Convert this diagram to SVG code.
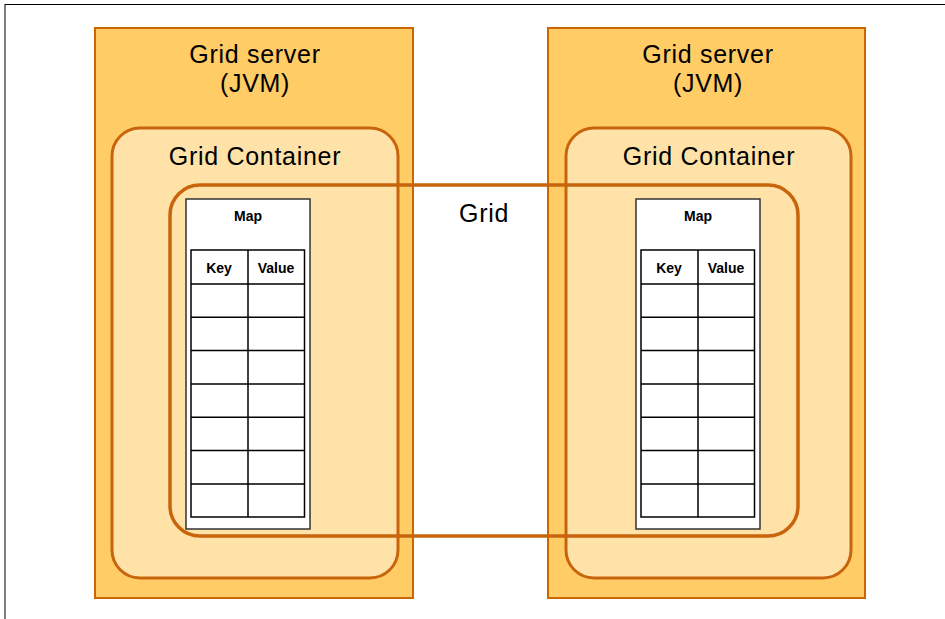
<svg xmlns="http://www.w3.org/2000/svg" width="945" height="619" viewBox="0 0 945 619">
<style>
.server{fill:#FFCC66;stroke:#CC6600;stroke-width:2}
.container{fill:#FFE2A8;stroke:#C8650C;stroke-width:3}
.grid{fill:none;stroke:#C8650C;stroke-width:3.5}
.map{fill:#fff;stroke:#333;stroke-width:1.5}
.tbl{fill:none;stroke:#000;stroke-width:1.5}
.big{font-family:"Liberation Sans",Arial,sans-serif;font-size:25px;letter-spacing:0.7px;fill:#000;text-anchor:middle}
.small{font-family:"Liberation Sans",Arial,sans-serif;font-size:14px;font-weight:bold;fill:#000;text-anchor:middle}
</style>
<defs>
<g id="table">
<rect class="map" x="0" y="0" width="124" height="330"/>
<text class="small" x="62" y="22">Map</text>
<rect class="tbl" x="5" y="51" width="113.5" height="267"/>
<path class="tbl" d="M62 51V318M5 85H118.5M5 118.3H118.5M5 151.6H118.5M5 185H118.5M5 218.3H118.5M5 251.6H118.5M5 285H118.5"/>
<text class="small" x="33" y="74">Key</text>
<text class="small" x="90" y="74">Value</text>
</g>
</defs>
<rect x="5" y="4.5" width="945" height="620" fill="#fff" stroke="#000" stroke-width="1"/>
<g id="server-left">
<rect class="server" x="95" y="28" width="318" height="570"/>
<text class="big" x="255" y="63">Grid server</text>
<text class="big" x="255" y="92">(JVM)</text>
</g>
<g id="server-right">
<rect class="server" x="548" y="28" width="317" height="570"/>
<text class="big" x="708" y="63">Grid server</text>
<text class="big" x="708" y="92">(JVM)</text>
</g>
<g id="container-left">
<rect class="container" x="112" y="128" width="286" height="450" rx="28" ry="28"/>
<text class="big" x="255" y="165">Grid Container</text>
</g>
<g id="container-right">
<rect class="container" x="566" y="128" width="285" height="450" rx="28" ry="28"/>
<text class="big" x="709" y="165">Grid Container</text>
</g>
<g id="map-left">
<use href="#table" x="186" y="199"/>
</g>
<g id="map-right">
<use href="#table" x="636" y="199"/>
</g>
<g id="grid">
<rect class="grid" x="170" y="185" width="628" height="351" rx="30" ry="30"/>
<text class="big" x="484" y="222">Grid</text>
</g>
<g id="connectors"></g>
</svg>
